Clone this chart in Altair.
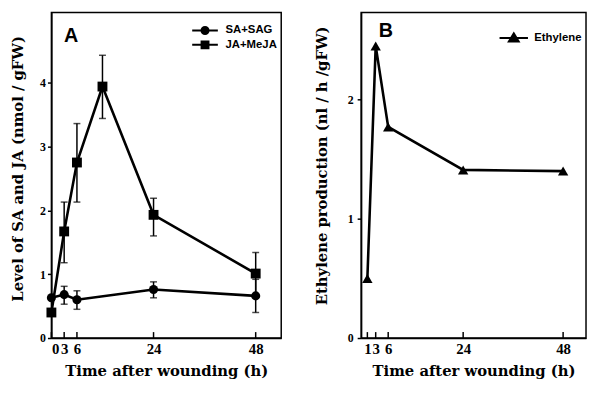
import altair as alt
import pandas as pd

# ---------------- Panel A data ----------------
sa_time = [0, 3, 6, 24, 48]
sa_level = [0.63, 0.68, 0.60, 0.76, 0.66]
sa_low = [0.63, 0.53, 0.45, 0.63, 0.40]
sa_high = [0.63, 0.81, 0.74, 0.88, 0.92]

ja_time = [0, 3, 6, 12, 24, 48]
ja_level = [0.40, 1.67, 2.75, 3.94, 1.93, 1.01]
ja_low = [0.40, 1.18, 2.13, 3.44, 1.60, 0.68]
ja_high = [0.40, 2.13, 3.36, 4.43, 2.19, 1.34]

series_a = ["SA+SAG", "JA+MeJA"]
xticks_a = [0, 3, 6, 24, 48]
yticks_a = [0, 1, 2, 3, 4]

# ---------------- Panel B data ----------------
eth_time = [1, 3, 6, 24, 48]
eth_rate = [0.50, 2.45, 1.77, 1.41, 1.40]
series_b = ["Ethylene"]
xticks_b = [1, 3, 6, 24, 48]
yticks_b = [0, 1, 2]

W_A, W_B, H = 233, 228, 330

df_sa = pd.DataFrame({"time": sa_time, "value": sa_level, "lo": sa_low,
                      "hi": sa_high, "series": series_a[0]})
df_ja = pd.DataFrame({"time": ja_time, "value": ja_level, "lo": ja_low,
                      "hi": ja_high, "series": series_a[1]})
df_a = pd.concat([df_sa, df_ja], ignore_index=True)
err_a = df_a[df_a["hi"] > df_a["lo"]]
df_b = pd.DataFrame({"time": eth_time, "value": eth_rate, "series": series_b[0]})


# legend symbols: a line with a (stroked, nested => solid) marker
def circ(r):
    return f"M{r},0A{r},{r},0,1,1,{-r},0A{r},{r},0,1,1,{r},0Z"


def sq(h):
    return f"M{-h},{-h}H{h}V{h}H{-h}Z"


def tri(s):
    return f"M0,{-1.15 * s:.3f}L{1.25 * s:.3f},{0.9 * s:.3f}H{-1.25 * s:.3f}Z"


path_circle = "M-3.25,0H3.25" + circ(0.9) + circ(0.5) + circ(0.15)
path_square = "M-3.25,0H3.25" + sq(0.875) + sq(0.45) + sq(0.1)
path_tri = "M-3.6,0H3.6" + tri(1.0) + tri(0.6) + tri(0.2)


def legend(x, y):
    return alt.Legend(orient="none", legendX=x, legendY=y, title=None,
                      labelFont="Liberation Sans", labelFontWeight="bold",
                      labelFontSize=11.5, labelColor="black", symbolSize=64,
                      symbolStrokeWidth=2, symbolFillColor="black",
                      symbolStrokeColor="black", symbolOpacity=1,
                      labelOffset=15, rowPadding=-1.5, padding=0)


# ---------------- Panel A ----------------
xs_a = alt.Scale(domain=[0, 54], nice=False, zero=False)
ys_a = alt.Scale(domain=[0, 5.1], nice=False)
xa_axis = alt.Axis(values=xticks_a, title="Time after wounding (h)", labelOverlap=False)
ya_axis = alt.Axis(values=yticks_a, title="Level of SA and JA (nmol / gFW)",
                   titlePadding=14, titleY=158)


def xa(f):
    return alt.X(f, scale=xs_a, axis=xa_axis)


def ya(f):
    return alt.Y(f, scale=ys_a, axis=ya_axis)


line_a = alt.Chart(df_a).mark_line(color="black", strokeWidth=2.6).encode(
    x=xa("time:Q"), y=ya("value:Q"), detail="series:N")
rule_a = alt.Chart(err_a).mark_rule(color="black", strokeWidth=1.5).encode(
    x=xa("time:Q"), y=ya("lo:Q"), y2="hi:Q")
caplo_a = alt.Chart(err_a).mark_tick(color="black", orient="horizontal", size=7,
                                     thickness=1.5).encode(x=xa("time:Q"), y=ya("lo:Q"))
caphi_a = alt.Chart(err_a).mark_tick(color="black", orient="horizontal", size=7,
                                     thickness=1.5).encode(x=xa("time:Q"), y=ya("hi:Q"))
pts_sa = alt.Chart(df_sa).mark_point(shape="circle", filled=True, size=85,
                                     color="black", opacity=1).encode(
    x=xa("time:Q"), y=ya("value:Q"))
pts_ja = alt.Chart(df_ja).mark_point(shape="square", filled=True, size=100,
                                     color="black", opacity=1).encode(
    x=xa("time:Q"), y=ya("value:Q"))
leg_a = alt.Chart(df_a).mark_point(filled=False, opacity=0, color="black", size=64,
                                   strokeWidth=2).encode(
    x=xa("time:Q"), y=ya("value:Q"),
    shape=alt.Shape("series:N", scale=alt.Scale(domain=series_a,
                                                range=[path_circle, path_square]),
                    legend=legend(150, 12.5)))
tick_a = alt.Chart(pd.DataFrame({"t": xticks_a})).mark_rule(
    color="black", strokeWidth=1.5).encode(
    x=xa("t:Q"), y=alt.value(H), y2=alt.value(H - 6))
lab_a = alt.Chart(pd.DataFrame({"lab": ["A"]})).mark_text(
    font="Liberation Sans", fontWeight="bold", fontSize=20, color="black").encode(
    x=alt.value(20), y=alt.value(24), text="lab:N")

panel_a = alt.layer(tick_a, line_a, rule_a, caplo_a, caphi_a, pts_sa, pts_ja,
                    leg_a, lab_a).properties(width=W_A, height=H)

# ---------------- Panel B ----------------
xs_b = alt.Scale(domain=[-0.5, 53.5], nice=False, zero=False)
ys_b = alt.Scale(domain=[0, 2.73], nice=False)
xb_axis = alt.Axis(values=xticks_b, title="Time after wounding (h)", labelOverlap=False)
yb_axis = alt.Axis(values=yticks_b, title="Ethylene production (nl / h /gFW)",
                   titlePadding=18, titleY=155, labelPadding=4)


def xb(f):
    return alt.X(f, scale=xs_b, axis=xb_axis)


def yb(f):
    return alt.Y(f, scale=ys_b, axis=yb_axis)


line_b = alt.Chart(df_b).mark_line(color="black", strokeWidth=2.6).encode(
    x=xb("time:Q"), y=yb("value:Q"))
pts_b = alt.Chart(df_b).mark_point(shape="triangle-up", filled=True, size=110,
                                   color="black", opacity=1).encode(
    x=xb("time:Q"), y=yb("value:Q"))
leg_b = alt.Chart(df_b).mark_point(filled=False, opacity=0, color="black", size=64,
                                   strokeWidth=2).encode(
    x=xb("time:Q"), y=yb("value:Q"),
    shape=alt.Shape("series:N", scale=alt.Scale(domain=series_b, range=[path_tri]),
                    legend=legend(149, 20)))
tick_b = alt.Chart(pd.DataFrame({"t": xticks_b})).mark_rule(
    color="black", strokeWidth=1.5).encode(
    x=xb("t:Q"), y=alt.value(H), y2=alt.value(H - 6))
lab_b = alt.Chart(pd.DataFrame({"lab": ["B"]})).mark_text(
    font="Liberation Sans", fontWeight="bold", fontSize=20, color="black").encode(
    x=alt.value(25), y=alt.value(19), text="lab:N")

panel_b = alt.layer(tick_b, line_b, pts_b, leg_b, lab_b).properties(width=W_B, height=H)

chart = alt.hconcat(panel_a, panel_b, spacing=32).resolve_scale(
    shape="independent").properties(
    padding={"left": 2, "top": 1, "right": 0, "bottom": 0}
).configure_view(stroke="black", strokeWidth=1.5).configure_axis(
    domainColor="black", domainWidth=1.5, grid=False, tickColor="black",
    tickWidth=1.5, labelColor="black", titleColor="black",
    labelFont="Liberation Serif", labelFontWeight="bold",
    titleFont="DejaVu Serif", titleFontWeight="bold", titleFontSize=15
).configure_axisX(tickSize=0, labelFontSize=15, labelPadding=4, titlePadding=7
).configure_axisY(tickSize=4, labelFontSize=12, labelPadding=2)

chart.save("out.html", embed_options={"renderer": "svg", "actions": False})
